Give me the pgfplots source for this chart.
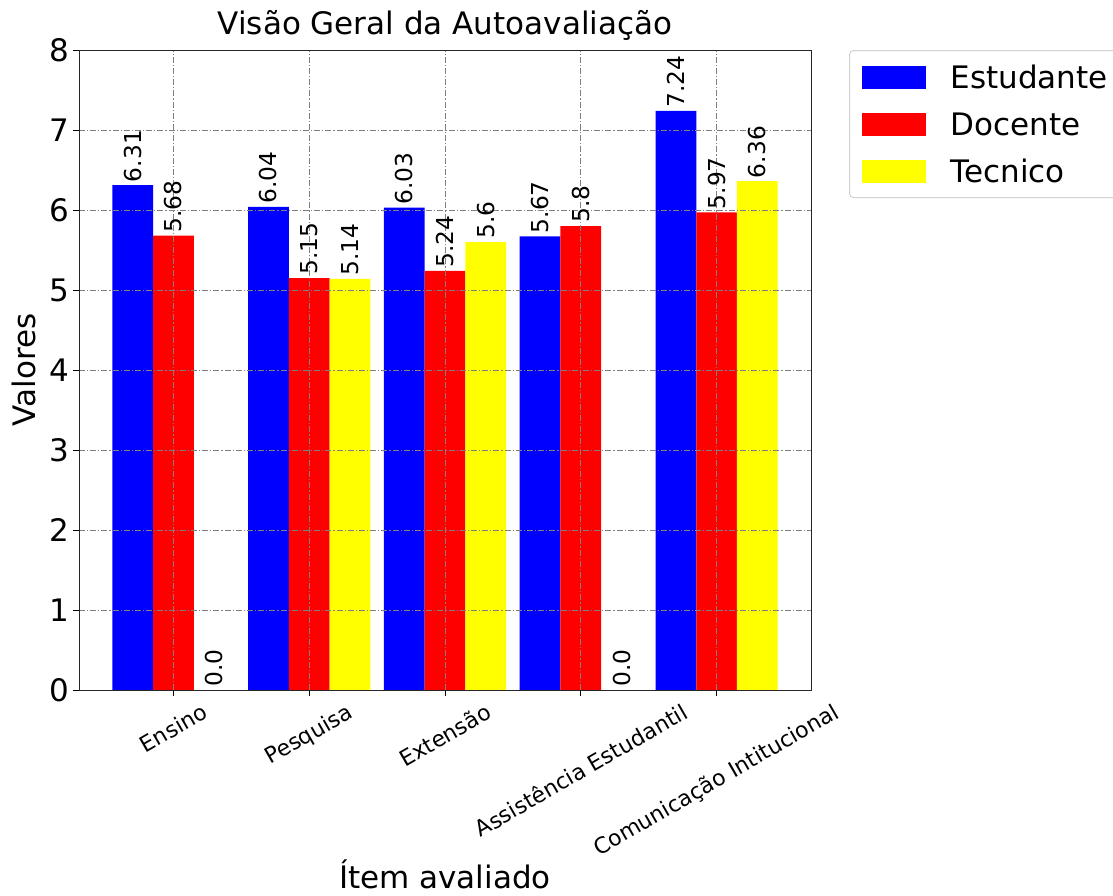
\documentclass[border=0pt]{standalone}
\usepackage{fontspec}
\setmainfont{DejaVu Sans}
\usepackage{graphicx}
\usepackage{pgfplots}
\pgfplotsset{compat=1.18}
\definecolor{pblue}{RGB}{0,0,255}
\definecolor{pred}{RGB}{255,0,0}
\definecolor{pyellow}{RGB}{255,255,0}
\newcommand{\bigf}{\fontsize{31}{37}\selectfont}
\begin{document}
\begin{tikzpicture}
\useasboundingbox (0,0) rectangle (1113pt,895pt);
\begin{axis}[
  at={(79pt,205pt)}, anchor=south west,
  scale only axis, width=732pt, height=640pt,
  xmin=-0.695, xmax=4.695, ymin=0, ymax=8,
  ybar=0pt, bar width=0.3,
  axis on top, clip=false,
  /pgf/number format/assume math mode=true,
  xtick={0,1,2,3,4},
  xticklabels={\rotatebox{30}{Ensino},\rotatebox{30}{Pesquisa},\rotatebox{30}{Extensão},\rotatebox{30}{Assistência Estudantil},\rotatebox{30}{Comunicação Intitucional}},
  xticklabel style={font=\fontsize{22}{26}\selectfont, anchor=north, inner sep=0pt, yshift=-6pt},
  ytick={0,1,2,3,4,5,6,7,8},
  yticklabel style={font=\bigf, inner sep=0pt, xshift=-4pt},
  tick align=outside, major tick length=6pt,
  xtick pos=lower, ytick pos=left,
  tick style={black, line width=1pt},
  axis line style={line width=1pt, black!85},
  grid=major,
  major grid style={black!50, line width=0.8pt, dash pattern=on 6pt off 2pt on 1.2pt off 2pt},
  title={Visão Geral da Autoavaliação},
  title style={font=\bigf, at={(axis description cs:0.5,1)}, anchor=base, yshift=10pt, inner sep=0pt},
  xlabel={Ítem avaliado},
  xlabel style={font=\bigf, at={(axis description cs:0.5,-0.3094)}, anchor=base, inner sep=0pt},
  ylabel={Valores},
  ylabel style={font=\bigf, at={(axis description cs:-0.0601,0.5)}, rotate=0, anchor=base, inner sep=0pt},
  point meta=explicit symbolic,
  nodes near coords,
  nodes near coords style={font=\fontsize{23.3}{28}\selectfont, rotate=90, anchor=west, inner sep=3pt, black},
  legend style={at={(1.052,1)}, anchor=north west, draw=black!18, line width=1pt, rounded corners=4pt,
    font=\bigf, inner xsep=12pt, inner ysep=15pt, row sep=24pt, column sep=25pt,
    cells={anchor=west}, nodes={inner sep=0pt, text height=22.6pt, text depth=0pt}},
  legend image code/.code={\fill[#1,draw=none,sharp corners] (0pt,-11.5pt) rectangle (64pt,11.5pt);},
]
\addplot[fill=pblue, draw=none] coordinates {(0,6.31)[6.31] (1,6.04)[6.04] (2,6.03)[6.03] (3,5.67)[5.67] (4,7.24)[7.24]};
\addplot[fill=pred, draw=none] coordinates {(0,5.68)[5.68] (1,5.15)[5.15] (2,5.24)[5.24] (3,5.8)[5.8] (4,5.97)[5.97]};
\addplot[fill=pyellow, draw=none] coordinates {(0,0)[0.0] (1,5.14)[5.14] (2,5.6)[5.6] (3,0)[0.0] (4,6.36)[6.36]};
\legend{Estudante,Docente,Tecnico}
\end{axis}
\end{tikzpicture}
\end{document}
